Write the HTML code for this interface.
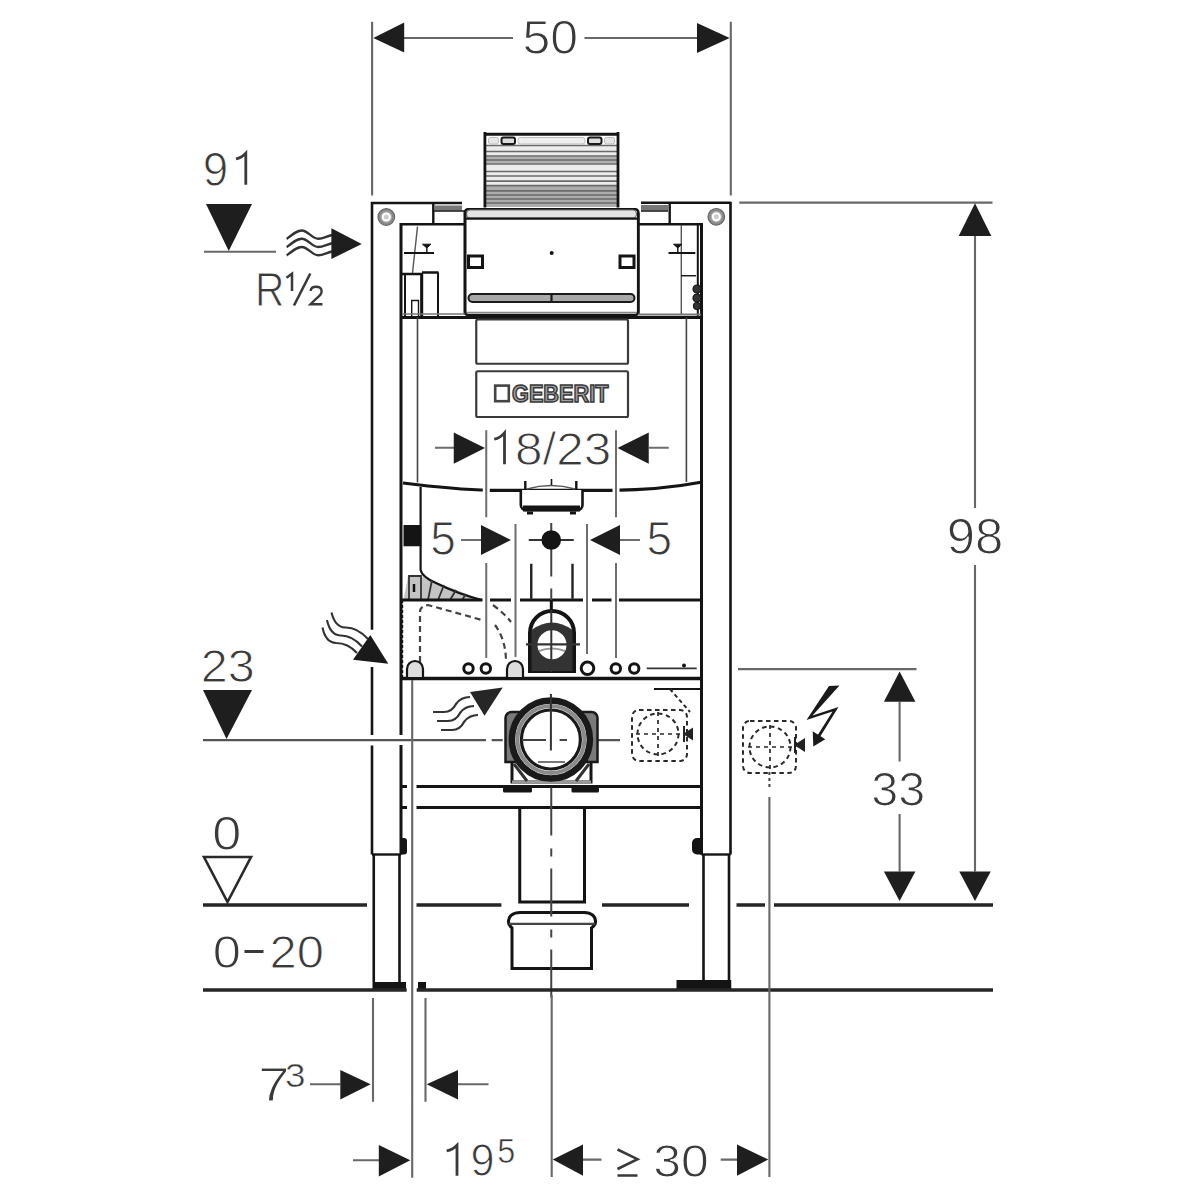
<!DOCTYPE html>
<html><head><meta charset="utf-8">
<style>
html,body{margin:0;padding:0;background:#fff;width:1200px;height:1200px;overflow:hidden}
svg{display:block}
.t{font-family:"Liberation Sans",sans-serif;font-size:50px;fill:#3a3a3a;stroke:#fff;stroke-width:1.1px}
.g{stroke:#686868;stroke-width:2.1;fill:none}
.k{stroke:#1c1c1c;fill:none}
.a{fill:#1e1e1e;stroke:none}
</style></head>
<body>
<svg width="1200" height="1200" viewBox="0 0 1200 1200">
<rect width="1200" height="1200" fill="#fff"/>

<!-- ===== DIMENSION 50 ===== -->
<g id="dim50">
<path class="g" d="M372.1 21.7V195.5M730.8 21.7V195.5M404 38H513M584.5 38H697"/>
<polygon class="a" points="373.3,38 404.2,22.5 404.2,52.5"/>
<polygon class="a" points="729.7,38 697,23 697,53"/>
</g>

<!-- ===== 91 marker ===== -->
<g id="m91">
<polygon class="a" points="206,204 252,204 228.75,251"/>
<path class="g" d="M204 251.75H276"/>
<g fill="none" stroke="#333" stroke-width="2.3">
<path d="M286.75 239C293 234 297 230.5 301.75 230.5C308 230.5 312 238.75 318.25 238.75C323 238.75 327 236 332 235"/>
<path d="M286.75 247.25C293 242.25 297 238.75 301.75 238.75C308 238.75 312 247 318.25 247C323 247 327 244.25 332 243.25"/>
<path d="M286.75 255.5C293 250.5 297 247 301.75 247C308 247 312 255.25 318.25 255.25C323 255.25 327 252.5 332 251.5"/>
</g>
<polygon class="a" points="331.4,228.25 331.4,259 361.75,244"/>
<path d="M286.5 277.8L292 273.8V291" stroke="#3a3a3a" stroke-width="2.5" fill="none"/>
<path d="M310.3 273.5L294 305.5" stroke="#3a3a3a" stroke-width="2.6"/>
<path d="M310.6 291Q311 286.8 316 286.8Q321.6 286.8 321.6 291.2Q321.6 294.5 317 298L310.5 304.2H322.5" stroke="#3a3a3a" stroke-width="2.4" fill="none"/>
</g>

<!-- ===== 23 marker ===== -->
<g id="m23">
<polygon class="a" points="203,690 252,690 226.5,739"/>
<path class="g" style="stroke:#555;stroke-width:2.3" d="M203 740.2H486M491.7 740.2H502.7M517 740.2H545M559.5 740.2H565M583 740.2H620"/>
</g>

<!-- ===== 0 marker ===== -->
<g id="m0">
<polygon points="204,857 251,857 227.5,902" fill="none" stroke="#2a2a2a" stroke-width="2.6"/>
<path d="M244.5 951.5H263.5" stroke="#3a3a3a" stroke-width="3"/>
</g>


<!-- ===== FRAME ===== -->
<g id="frame" stroke="#141414" fill="none" stroke-linecap="butt">
<!-- left post -->
<path d="M372 201.8V629.7M372 667V735M372 745.5V854.5M372 203H462" stroke-width="2.6"/>
<path d="M401 223V735M401 745V854.5" stroke-width="3"/>
<path d="M372 854.5H401" stroke-width="2.4"/>
<path d="M373.75 854.5V982M399.5 854.5V982" stroke-width="2.6"/>
<rect x="372.5" y="982" width="33.5" height="8" fill="#141414" stroke="none"/>
<path d="M401 838h3a3 3 0 0 1 3 3v10.5a3 3 0 0 1 -3 3h-3z" fill="#141414" stroke="none"/>
<!-- right post -->
<path d="M730.5 201.8V854.5M641 202.8H730.5" stroke-width="2.6"/>
<path d="M701.5 223V854.5" stroke-width="3"/>
<path d="M701.5 854.5H730.5" stroke-width="2.4"/>
<path d="M703.5 854.5V980M729 854.5V980" stroke-width="2.6"/>
<rect x="676.5" y="980" width="54.75" height="9.5" fill="#141414" stroke="none"/>
<path d="M702 838h-5a5 5 0 0 0 -5 5v6.5a5 5 0 0 0 5 5h5z" fill="#141414" stroke="none"/>
<rect x="418" y="982" width="8" height="8" fill="#141414" stroke="none"/>
<!-- screws -->
<g fill="#8a8a8a" stroke="#666" stroke-width="1.2"><circle cx="386.3" cy="217" r="8.3"/><circle cx="716.3" cy="216.8" r="8.3"/></g>
<g fill="#fff" stroke="#aaa" stroke-width="1.2"><circle cx="386.3" cy="217" r="5.2"/><circle cx="716.3" cy="216.8" r="5.2"/></g>
<g fill="#ccc" stroke="none"><circle cx="386.3" cy="217" r="2.5"/><circle cx="716.3" cy="216.8" r="2.5"/></g>
<!-- top boxes -->
<path d="M433.3 203V224M401 224.2H465M669.7 202.5V224M638 224.2H701" stroke-width="2.4"/>
<rect x="434" y="205.5" width="28" height="5" fill="#777" stroke="none"/>
<rect x="641" y="205" width="27.5" height="5.4" fill="#777" stroke="none"/>
<path d="M434 211H465M641 211H668" stroke-width="1.6"/>
<!-- actuator -->
<rect x="486" y="145.5" width="131" height="61.5" fill="#ececec" stroke="none"/>
<rect x="486" y="156.5" width="131" height="7" fill="#b0b0b0" stroke="none"/>
<rect x="486" y="186" width="131" height="21" fill="#acacac" stroke="none"/>
<path d="M486 145.5H617M486 151.5H617M486 156H617M486 160H617M486 164H617M486 171.5H617M486 176H617M486 181.2H617M486 185.6H617M486 190.9H617M486 195H617M486 199H617M486 203H617" stroke="#6a6a6a" stroke-width="1.7"/>
<path d="M484.9 132V207.5M618 132V207.5" stroke-width="2.8"/>
<path d="M484.9 134.3H618" stroke-width="3"/>
<rect x="488.5" y="137.5" width="10" height="6.5" rx="2" fill="#e6e6e6" stroke="#bbb" stroke-width="1"/>
<rect x="501.5" y="137.5" width="13.5" height="6.5" rx="2" fill="#ddd" stroke="#1a1a1a" stroke-width="2"/>
<rect x="518" y="137.5" width="67" height="6.5" rx="2.5" fill="#eee" stroke="#bbb" stroke-width="1"/>
<rect x="588" y="137.5" width="13.5" height="6.5" rx="2" fill="#ddd" stroke="#1a1a1a" stroke-width="2"/>
<rect x="604.5" y="137.5" width="10" height="6.5" rx="2" fill="#e6e6e6" stroke="#bbb" stroke-width="1"/>
<!-- central panel -->
<rect x="465" y="209.2" width="173.3" height="105.8" rx="3" stroke-width="2.6"/>
<rect x="466.5" y="210" width="170" height="8" rx="4" fill="#e4e4e4" stroke="#777" stroke-width="1.2"/>
<path d="M465 218.6H638.3" stroke-width="2.2"/>
<rect x="468.5" y="294" width="166" height="8" rx="4" fill="#a8a8a8" stroke="#1a1a1a" stroke-width="2"/>
<path d="M551.5 294V302" stroke="#1a1a1a" stroke-width="2.2"/>
<path d="M465 312.5H638.3" stroke-width="1.6" stroke="#888"/>
<rect x="468.5" y="256" width="14" height="11.5" stroke-width="3"/>
<rect x="620" y="256" width="14" height="11.5" stroke-width="3"/>
<circle cx="551.7" cy="253" r="2" fill="#141414" stroke="none"/>
<!-- left compartment -->
<path d="M417.5 226.7L412.5 273" stroke="#555" stroke-width="1.4"/>
<path d="M404 253H434" stroke-width="2"/>
<path d="M422.5 244.2H431L426.8 248z" fill="#141414" stroke-width="1"/>
<path d="M426.8 247V253" stroke-width="1.4"/>
<path d="M402 274H422M422 272.5H438.5" stroke-width="2.4"/>
<path d="M421.7 273V317M438 272.5V317" stroke-width="2"/>
<path d="M421.7 273V317" stroke-width="3"/>
<path d="M405 274V317" stroke-width="2"/>
<path d="M411.7 317V300.5H418.5V317" stroke-width="1.4"/>
<path d="M465 211V315" stroke-width="2.6"/>
<path d="M403 314H465" stroke="#777" stroke-width="1.6"/>
<!-- right compartment -->
<path d="M638.2 213V315" stroke-width="2.6"/>
<path d="M681.3 225V314" stroke="#555" stroke-width="1.4"/>
<path d="M668.5 253H695.3" stroke-width="2"/>
<path d="M673.5 244.2H682L677.8 248z" fill="#141414" stroke-width="1"/>
<path d="M677.8 247V253" stroke-width="1.4"/>
<path d="M681 275.75H696" stroke-width="1.4"/>
<path d="M697.8 225V316" stroke-width="2"/>
<g fill="#333" stroke="#141414" stroke-width="1.2">
<circle cx="697" cy="289" r="4"/><circle cx="697" cy="298" r="4"/><circle cx="697" cy="306" r="3.5"/>
</g>
<path d="M638 314.5H701" stroke="#777" stroke-width="1.8"/>
<!-- crossbar -->
<path d="M401 317.5H701" stroke-width="2.8"/>
</g>


<!-- ===== CISTERN BODY ===== -->
<g id="body" stroke="#141414" fill="none">
<path d="M417.5 317.5V482.5M686.4 317.5V482" stroke="#444" stroke-width="1.6"/>
<rect x="476.25" y="319.5" width="151.75" height="44.25" rx="1.5" stroke="#3a3a3a" stroke-width="2.2"/>
<rect x="476.25" y="371.25" width="151.75" height="45.75" rx="1.5" stroke="#3a3a3a" stroke-width="2.2"/>
<!-- logo -->
<rect x="495.2" y="385.6" width="13.6" height="15.6" stroke="#444" stroke-width="2.6"/>
<text x="512" y="401.8" font-family="Liberation Sans" font-weight="bold" font-size="23" textLength="96.5" lengthAdjust="spacingAndGlyphs" fill="#a0a0a0" stroke="#3a3a3a" stroke-width="1.5">GEBERIT</text>
<!-- curve -->
<path d="M403 483Q455 489.5 490 490.3L612 490.3Q660 490 701 482.3" stroke-width="3.2"/>
<!-- flush bracket -->
<path d="M525.3 481V493M576.3 481V493" stroke-width="2.4"/>
<path d="M520.8 490V505a5 5 0 0 0 5 5H577.5a5 5 0 0 0 5-5V490" stroke-width="2.6" fill="#fff"/>
<path d="M523 508.5H580" stroke-width="6"/>
<path d="M527 513H533M570 513H576" stroke-width="3"/>
<path d="M527 489Q551 482 575 489" stroke="#555" stroke-width="1.4"/>
<path d="M551.5 479V485" stroke-width="1.6"/>
<!-- left lower compartment -->
<path d="M403.5 600L408 576.5H422L482 600z" fill="#c4c4c4" stroke="none"/>
<path d="M420.6 487V570Q422 577 436 583Q458 594 482 600" stroke-width="2.2"/>
<path d="M409 600V576H421V600M428 600L432 580M438 600L444 585M450 600L456 590M462 600L466 594" stroke="#333" stroke-width="1.8"/>
<path d="M414 584V592" stroke="#111" stroke-width="2.5"/>
<rect x="403.5" y="525" width="17.75" height="21.25" fill="#141414" stroke="none"/>

<path d="M401 600H482.5M490 600H511M520 600H583M592 600H611.5M619 600H701" stroke-width="2.8"/>
<path d="M401 678.5H701" stroke-width="3.4"/>
<!-- dashed outlines -->
<g stroke="#444" stroke-width="2.2" stroke-dasharray="6 4">
<path d="M420 672V612Q420 606 428 605L482 620"/>
<path d="M493 605Q505 614 511 622"/>
<path d="M495 625Q506 640 506 662"/>
</g>
<path d="M401.7 600V678" stroke="#141414" stroke-width="3" stroke-dasharray="3 2"/>
<!-- small circles -->
<g stroke-width="3">
<circle cx="468.5" cy="668.5" r="4.7"/><circle cx="485.8" cy="668.5" r="4.7"/>
<circle cx="587.5" cy="668.3" r="6.3"/><circle cx="615.8" cy="668.5" r="4.7"/><circle cx="634.2" cy="668.5" r="4.7"/>
</g>
<path d="M407 677V669a8 8 0 0 1 16 0V677" stroke-width="2.2" fill="#ddd"/>
<path d="M507 677V669a8 8 0 0 1 16 0V677" stroke-width="2.2" fill="#ddd"/>
<path d="M646.7 668.3H696.7" stroke="#333" stroke-width="1.8"/>
<circle cx="684" cy="665.5" r="2" fill="#141414" stroke="none"/>
<!-- elbow -->
<path d="M530 671V633a22 22 0 0 1 44 0V671z" fill="#fff" stroke="#141414" stroke-width="4"/>
<path d="M531.5 671V630Q552 615 572.5 630V671z" fill="#333" stroke="none"/>
<circle cx="552" cy="644.7" r="14.5" fill="#fff" stroke="none"/>
<path d="M539 651Q552 646 565 651" stroke="#999" stroke-width="2"/>
<path d="M526 644.3H580" stroke="#333" stroke-width="2.2"/>
<path d="M551.3 600V672" stroke="#333" stroke-width="2"/>
<path d="M551.3 600V610" stroke="#141414" stroke-width="3"/>
<!-- extension lines -->
<path d="M486.25 486V495M616 486V495" stroke="#fff" stroke-width="7"/>
<path d="M486.25 430.25V517.25M486.25 563V658M616 430.25V517.25M616 563V658M515.5 524V657M587 524V654" stroke="#6e6e6e" stroke-width="2"/>
<!-- 18/23 arrows -->
<path d="M435 447.8H454M668.75 447.8H649" stroke="#6e6e6e" stroke-width="2"/>
<polygon points="453.75,432.5 453.75,463.75 485,448" fill="#1e1e1e" stroke="none"/>
<polygon points="617.5,448 648.75,432.5 648.75,463.75" fill="#1e1e1e" stroke="none"/>
<!-- 5 arrows -->
<path d="M461 540H481M620 540H640" stroke="#6e6e6e" stroke-width="2"/>
<polygon points="481,525 481,555 511,540" fill="#1e1e1e" stroke="none"/>
<polygon points="590,540 620,525 620,555" fill="#1e1e1e" stroke="none"/>
<path d="M528.75 540H573.75" stroke="#333" stroke-width="2"/>
<path d="M551.25 523V576.5M551.25 588.5V600" stroke="#444" stroke-width="2"/>
<path d="M531.25 563.75V598.75M572.5 563.75V598.75" stroke="#222" stroke-width="2.4"/>
<circle cx="551.25" cy="540" r="9.8" fill="#141414" stroke="none"/>

</g>


<!-- ===== LOWER ===== -->
<g id="lower" stroke="#141414" fill="none">
<!-- crossbars -->
<path d="M416.5 786.4H701.5M416.5 807.5H701.5" stroke-width="3"/>
<path d="M401 786.4H407M401 807.5H407" stroke-width="3"/>
<!-- drain bracket -->
<path d="M505.5 762V718a6 6 0 0 1 6-6H522L516 762zM597.5 762V718a6 6 0 0 0-6-6H581L587 762z" fill="#7a7a7a" stroke="#1a1a1a" stroke-width="2.5"/>
<path d="M512 762L512 782H591V762" stroke-width="3"/>
<path d="M512 782H591" stroke="#999" stroke-width="3"/>
<path d="M514 764L527 781M589 764L576 781" stroke="#333" stroke-width="3"/>
<rect x="503" y="787" width="29" height="5.5" rx="1.5" fill="#141414" stroke="none"/>
<rect x="571.5" y="787" width="27.5" height="5.5" rx="1.5" fill="#141414" stroke="none"/>
<circle cx="550.9" cy="739.5" r="39" fill="#fff" stroke="#1a1a1a" stroke-width="6.5"/>
<circle cx="550.9" cy="739.5" r="33.5" stroke="#8a8a8a" stroke-width="4"/>
<circle cx="550.9" cy="739.5" r="29.5" stroke="#1a1a1a" stroke-width="3.2"/>
<path d="M538 762H565" stroke="#777" stroke-width="2"/>
<path d="M550.9 694V750.5" stroke="#333" stroke-width="2"/>
<path d="M522 740H546M559.6 740H567" stroke="#444" stroke-width="2.2"/>
<!-- pipe -->
<path d="M519.75 807.5V902H584.5V807.5" stroke-width="3"/>
<path d="M512 968.5V928Q508 925 508.5 921Q509 913 520 912.5H584Q595 913 595.5 921Q596 925 591.5 928V968.5z" stroke-width="3" fill="#fff"/>
<path d="M509 923.9H595" stroke="#444" stroke-width="2.4"/>
<path d="M551.25 787.5V1000" stroke="#444" stroke-width="2" stroke-dasharray="48 13 8 12"/>
<!-- wavy arrow lower -->
<g stroke="#333" stroke-width="2.2">
<path d="M433 712H444Q452 712 456 704Q461 697 470 697"/>
<path d="M437 721H448Q456 721 460 713Q465 706 474 706"/>
<path d="M441 730H452Q460 730 464 722Q469 715 478 715"/>
</g>
<polygon points="470,692 502.7,687.4 484.5,715.8" fill="#262626" stroke="none"/>
<!-- wavy arrow left -->
<g stroke="#333" stroke-width="2.1">
<path d="M331.5 612.5Q335 627 345 627.5Q357 627 368 639"/>
<path d="M327 620Q330 634.5 340 635.5Q352 635 362 646.5"/>
<path d="M322.5 627.5Q325.5 642.5 336 643Q348 643 357 653"/>
</g>
<polygon points="370.3,635 353,659.7 388.3,663.7" fill="#1a1a1a" stroke="none"/>
<!-- electrical boxes -->
<g stroke="#2a2a2a" stroke-width="2" stroke-dasharray="4.5 3.5">
<rect x="632" y="710" width="55" height="51" rx="7"/>
<rect x="743" y="721" width="53" height="52" rx="7"/>
<circle cx="658" cy="734" r="20.5"/>
<circle cx="770" cy="747" r="20.5"/>
</g>
<g stroke="#2a2a2a" stroke-width="1.7" stroke-dasharray="4 4">
<path d="M636 734H682M658 712V758M748 747H794M770 725V770"/>
</g>
<path d="M654 689H700" stroke-width="2"/>
<path d="M670 689L690 712" stroke="#2a2a2a" stroke-width="2" stroke-dasharray="4 3"/>
<path d="M683 734L693 727.5V740.5z" fill="#222" stroke="none"/><path d="M684 726V742" stroke="#222" stroke-width="2"/>
<path d="M794 745L805 738V752z" fill="#222" stroke="none"/><path d="M795 737V753" stroke="#222" stroke-width="2"/>
<path d="M769.4 772V790" stroke="#444" stroke-width="2" stroke-dasharray="3 3"/>
<!-- lightning -->
<path d="M829 686L839.5 685.5L812.5 715.5L838.5 707L819 738.5L816.5 737L832.5 711.5L806.5 720z" fill="#1a1a1a" stroke="none"/>
<polygon points="812.7,731.3 825.3,739.3 813.3,746.5" fill="#1a1a1a" stroke="none"/>
</g>

<!-- ===== floor lines ===== -->
<path d="M203 905H367M416.5 905H501.4M602 905H689M736.5 905H765M774 905H993" stroke="#262626" stroke-width="3.6" fill="none"/>
<path d="M203 990H406.7M416.7 990H993" stroke="#262626" stroke-width="3.6" fill="none"/>

<!-- ===== right dims ===== -->
<g id="rdims">
<path class="g" d="M739.3 202.6H992.5M975 236V508M975 565V871.6M738 669.1H916.5M899.6 701.75V761.4M899.6 814V871.6"/>
<polygon class="a" points="975,203.3 958.7,236 991.3,236"/>
<polygon class="a" points="975,901 959.25,871.6 990.75,871.6"/>
<polygon class="a" points="899.6,671.4 883.9,701.75 915.4,701.75"/>
<polygon class="a" points="899.6,901 883.9,871.6 915.4,871.6"/>
</g>

<!-- ===== bottom dims ===== -->
<g id="bdims">
<path class="g" d="M373 998V1101.8M425.5 998V1101.8M412.2 680V1177.7M551.7 995V1177M769.4 797V1177"/>
<path class="g" d="M310 1084.3H340.3M458 1084.3H488.5M353 1160.2H380M583 1159.6H601.5M720.7 1159.6H738"/>
<polygon class="a" points="340.3,1070 340.3,1099.5 370.7,1084.3"/>
<polygon class="a" points="426.7,1084.3 458,1070 458,1099.5"/>
<polygon class="a" points="378.8,1145 378.8,1176.5 410.3,1160.2"/>
<polygon class="a" points="552.75,1159.6 583,1144.4 583,1175.8"/>
<polygon class="a" points="737,1144.4 737,1175.8 768.3,1159.6"/>
<path d="M617.5 1149.5L637.5 1159.2L617.5 1169M617.5 1175.5H637.5" stroke="#3a3a3a" stroke-width="2.6" fill="none"/>
</g>

<!-- ===== TEXT ===== -->
<g id="texts">
<text class="t" transform="matrix(1.0 0 0 0.9588 522.5 53.76)" style="font-size:50px;stroke-width:1.1px">50</text>
<text class="t" transform="matrix(0.9182 0 0 0.9559 202.75 186.06)" style="font-size:50px;stroke-width:1.1px">9</text>
<text class="t" transform="matrix(0.8148 0 0 0.9697 254.93 305.77)" style="font-size:50px;stroke-width:1.1px">R</text>
<text class="t" transform="matrix(0.97 0 0 0.9412 200.84 681.69)" style="font-size:50px;stroke-width:1.1px">23</text>
<text class="t" transform="matrix(1.0455 0 0 0.9706 212.36 850.47)" style="font-size:50px;stroke-width:1.1px">0</text>
<text class="t" transform="matrix(1.0136 0 0 0.9412 212.76 967.94)" style="font-size:50px;stroke-width:1.1px">0</text>
<text class="t" transform="matrix(0.98 0 0 0.9412 269.56 967.94)" style="font-size:50px;stroke-width:1.1px">20</text>
<text class="t" transform="matrix(0.989 0 0 0.9265 515.03 465.43)" style="font-size:50px;stroke-width:1.1px">8/23</text>
<text class="t" transform="matrix(0.9205 0 0 0.9545 430.24 555.45)" style="font-size:50px;stroke-width:1.1px">5</text>
<text class="t" transform="matrix(0.9205 0 0 0.9545 646.49 555.45)" style="font-size:50px;stroke-width:1.1px">5</text>
<text class="t" transform="matrix(1.017 0 0 0.9809 946.85 554.23)" style="font-size:50px;stroke-width:1.1px">98</text>
<text class="t" transform="matrix(0.97 0 0 0.9632 871.34 805.71)" style="font-size:50px;stroke-width:1.1px">33</text>
<text class="t" transform="matrix(1.1227 0 0 0.9606 258.13 1101.16)" style="font-size:50px;stroke-width:1.1px">7</text>
<text class="t" transform="matrix(1.0867 0 0 0.9696 285.03 1087.3)" style="font-size:34px;stroke-width:0.6px">3</text>
<text class="t" transform="matrix(0.8636 0 0 0.9118 470.61 1176.41)" style="font-size:50px;stroke-width:1.1px">9</text>
<text class="t" transform="matrix(0.9533 0 0 1.0435 497.29 1163.2)" style="font-size:34px;stroke-width:0.6px">5</text>
<text class="t" transform="matrix(0.998 0 0 0.9294 653.21 1177.43)" style="font-size:50px;stroke-width:1.1px">30</text>
<path d="M236 158.8Q241.5 157.8 245.8 153.2V184.8M494.2 439.2Q500 438 504.5 432.8V464.3M446.7 1150.9Q452.5 1149.8 457 1145.2V1175.7" stroke="#3a3a3a" stroke-width="2.8" fill="none"/>
</g>
</svg>
</body></html>
